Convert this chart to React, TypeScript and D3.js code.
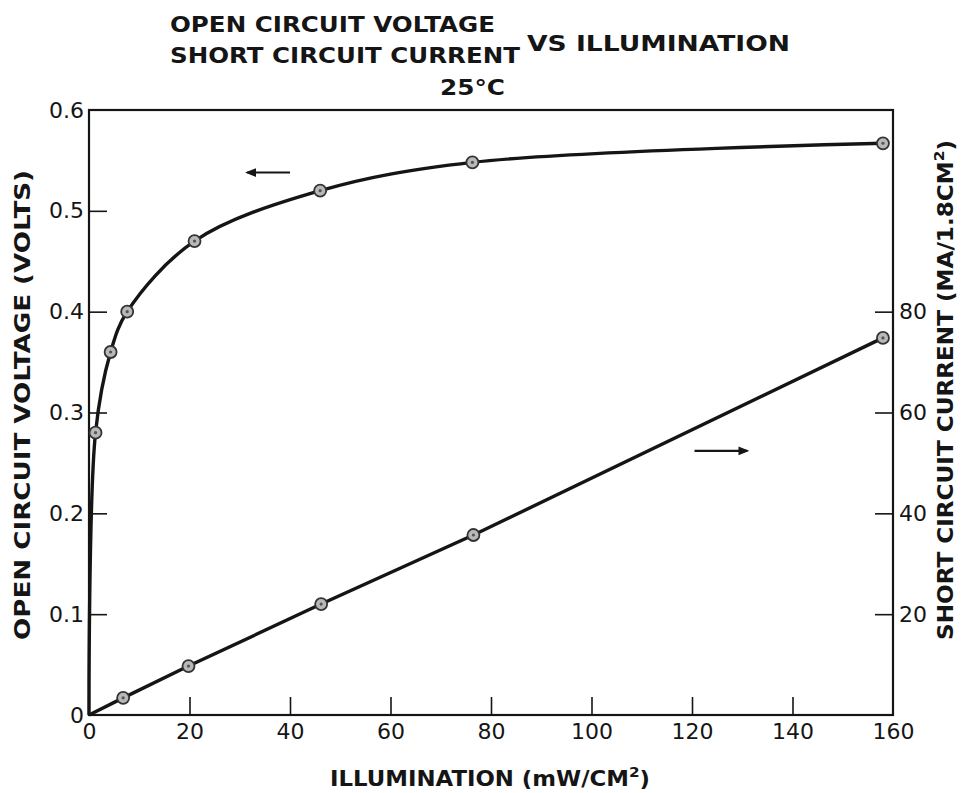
import { useRef, useEffect } from 'react'
import * as d3 from 'd3'

const W = 963
const H = 793
const X0 = 89
const X1 = 893
const Y0 = 715
const Y1 = 110

// open circuit voltage (left axis)
const vocIllum = [0, 1.3, 4.3, 7.6, 21, 46, 76.3, 158]
const vocVolts = [0, 0.28, 0.36, 0.4, 0.47, 0.52, 0.548, 0.567]
const vocMarked = [false, true, true, true, true, true, true, true]

// short circuit current (right axis)
const iscIllum = [0, 6.8, 19.8, 46.2, 76.5, 158]
const iscMa = [0, 3.4, 9.7, 22, 35.7, 74.8]
const iscMarked = [false, true, true, true, true, true]

const xTicks = [0, 20, 40, 60, 80, 100, 120, 140, 160]
const voltTicks = [0, 0.1, 0.2, 0.3, 0.4, 0.5, 0.6]
const currentTicks = [20, 40, 60, 80]

const FONT = '"DejaVu Sans", sans-serif'
const INK = '#151515'

const x = d3.scaleLinear().domain([0, 160]).range([X0, X1])
const yV = d3.scaleLinear().domain([0, 0.6]).range([Y0, Y1])
const yI = d3.scaleLinear().domain([0, 120]).range([Y0, Y1])

function Marker({ cx, cy }: { cx: number; cy: number }) {
  return (
    <g>
      <circle cx={cx} cy={cy} r={6} fill="#b8b8b8" stroke="#333" strokeWidth={1.8} />
      <circle cx={cx} cy={cy} r={1.6} fill="#555" />
    </g>
  )
}

export default function App() {
  const xAxisRef = useRef<SVGGElement>(null)
  const leftAxisRef = useRef<SVGGElement>(null)
  const rightAxisRef = useRef<SVGGElement>(null)

  useEffect(() => {
    const style = (g: d3.Selection<SVGGElement, unknown, null, undefined>) => {
      g.select('.domain').remove()
      g.selectAll('line').attr('stroke', INK).attr('stroke-width', 1.6)
      g.selectAll('text')
        .attr('fill', INK)
        .attr('font-family', FONT)
        .attr('font-size', 22)
    }
    if (xAxisRef.current) {
      const g = d3.select(xAxisRef.current)
      g.call(d3.axisBottom(x).tickValues(xTicks).tickSize(-18).tickPadding(8).tickFormat(d3.format('d')))
      style(g)
      g.selectAll('.tick line').filter((d) => d === 0 || d === 160).remove()
    }
    if (leftAxisRef.current) {
      const g = d3.select(leftAxisRef.current)
      g.call(
        d3
          .axisLeft(yV)
          .tickValues(voltTicks)
          .tickSize(-18)
          .tickPadding(5)
          .tickFormat((d) => (d === 0 ? '0' : d3.format('.1f')(d as number)))
      )
      style(g)
      g.selectAll('.tick line').filter((d) => d === 0 || d === 0.6).remove()
    }
    if (rightAxisRef.current) {
      const g = d3.select(rightAxisRef.current)
      g.call(d3.axisRight(yI).tickValues(currentTicks).tickSize(-18).tickPadding(6).tickFormat(d3.format('d')))
      style(g)
    }
  }, [])

  const vocLine = d3
    .line<number>()
    .x((d) => x(d))
    .y((_, i) => yV(vocVolts[i]))
    .curve(d3.curveCatmullRom.alpha(0.5))(vocIllum) ?? ''

  const iscLine = d3
    .line<number>()
    .x((d) => x(d))
    .y((_, i) => yI(iscMa[i]))(iscIllum) ?? ''

  // direction arrows, placed in data units
  const leftArrow = { x1: x(40), x2: x(31.5), y: yV(0.538) }
  const rightArrow = { x1: x(120.5), x2: x(131), y: yI(52.4) }

  return (
    <svg width={W} height={H} style={{ position: 'absolute', left: 0, top: 0, background: '#fff' }}>
      <g fontFamily={FONT} fill={INK} fontWeight="bold">
        <text x={170} y={32} fontSize={22} textLength={325} lengthAdjust="spacingAndGlyphs">
          OPEN CIRCUIT VOLTAGE
        </text>
        <text x={170} y={63} fontSize={22} textLength={350} lengthAdjust="spacingAndGlyphs">
          SHORT CIRCUIT CURRENT
        </text>
        <text x={527} y={51} fontSize={22} textLength={263} lengthAdjust="spacingAndGlyphs">
          VS ILLUMINATION
        </text>
        <text x={440} y={95} fontSize={22} textLength={65} lengthAdjust="spacingAndGlyphs">
          25°C
        </text>
      </g>

      {/* frame */}
      <rect x={X0} y={Y1} width={X1 - X0} height={Y0 - Y1} fill="none" stroke={INK} strokeWidth={2.2} />

      <g ref={xAxisRef} transform={`translate(0,${Y0})`} />
      <g ref={leftAxisRef} transform={`translate(${X0},0)`} />
      <g ref={rightAxisRef} transform={`translate(${X1},0)`} />

      <path d={vocLine} fill="none" stroke={INK} strokeWidth={3.4} />
      <path d={iscLine} fill="none" stroke={INK} strokeWidth={3.4} />

      {vocIllum.map((d, i) => (vocMarked[i] ? <Marker key={`v${i}`} cx={x(d)} cy={yV(vocVolts[i])} /> : null))}
      {iscIllum.map((d, i) => (iscMarked[i] ? <Marker key={`c${i}`} cx={x(d)} cy={yI(iscMa[i])} /> : null))}

      <defs>
        <marker id="head" viewBox="0 0 10 10" refX={8} refY={5} markerWidth={5} markerHeight={5} orient="auto">
          <path d="M0,1 L10,5 L0,9 Z" fill={INK} />
        </marker>
      </defs>
      <line
        x1={leftArrow.x1}
        x2={leftArrow.x2}
        y1={leftArrow.y}
        y2={leftArrow.y}
        stroke={INK}
        strokeWidth={2.2}
        markerEnd="url(#head)"
      />
      <line
        x1={rightArrow.x1}
        x2={rightArrow.x2}
        y1={rightArrow.y}
        y2={rightArrow.y}
        stroke={INK}
        strokeWidth={2.2}
        markerEnd="url(#head)"
      />

      <g fontFamily={FONT} fill={INK} fontSize={21} fontWeight="bold">
        <text x={490} y={786} textAnchor="middle" textLength={320} lengthAdjust="spacingAndGlyphs">
          ILLUMINATION (mW/CM<tspan dy={-9} fontSize={14}>2</tspan>
          <tspan dy={9}>)</tspan>
        </text>
        <text transform="translate(30,405) rotate(-90)" textAnchor="middle" textLength={470} lengthAdjust="spacingAndGlyphs">
          OPEN CIRCUIT VOLTAGE (VOLTS)
        </text>
        <text transform="translate(953,390) rotate(-90)" textAnchor="middle" textLength={500} lengthAdjust="spacingAndGlyphs">
          SHORT CIRCUIT CURRENT (MA/1.8CM<tspan dy={-9} fontSize={14}>2</tspan>
          <tspan dy={9}>)</tspan>
        </text>
      </g>
    </svg>
  )
}
